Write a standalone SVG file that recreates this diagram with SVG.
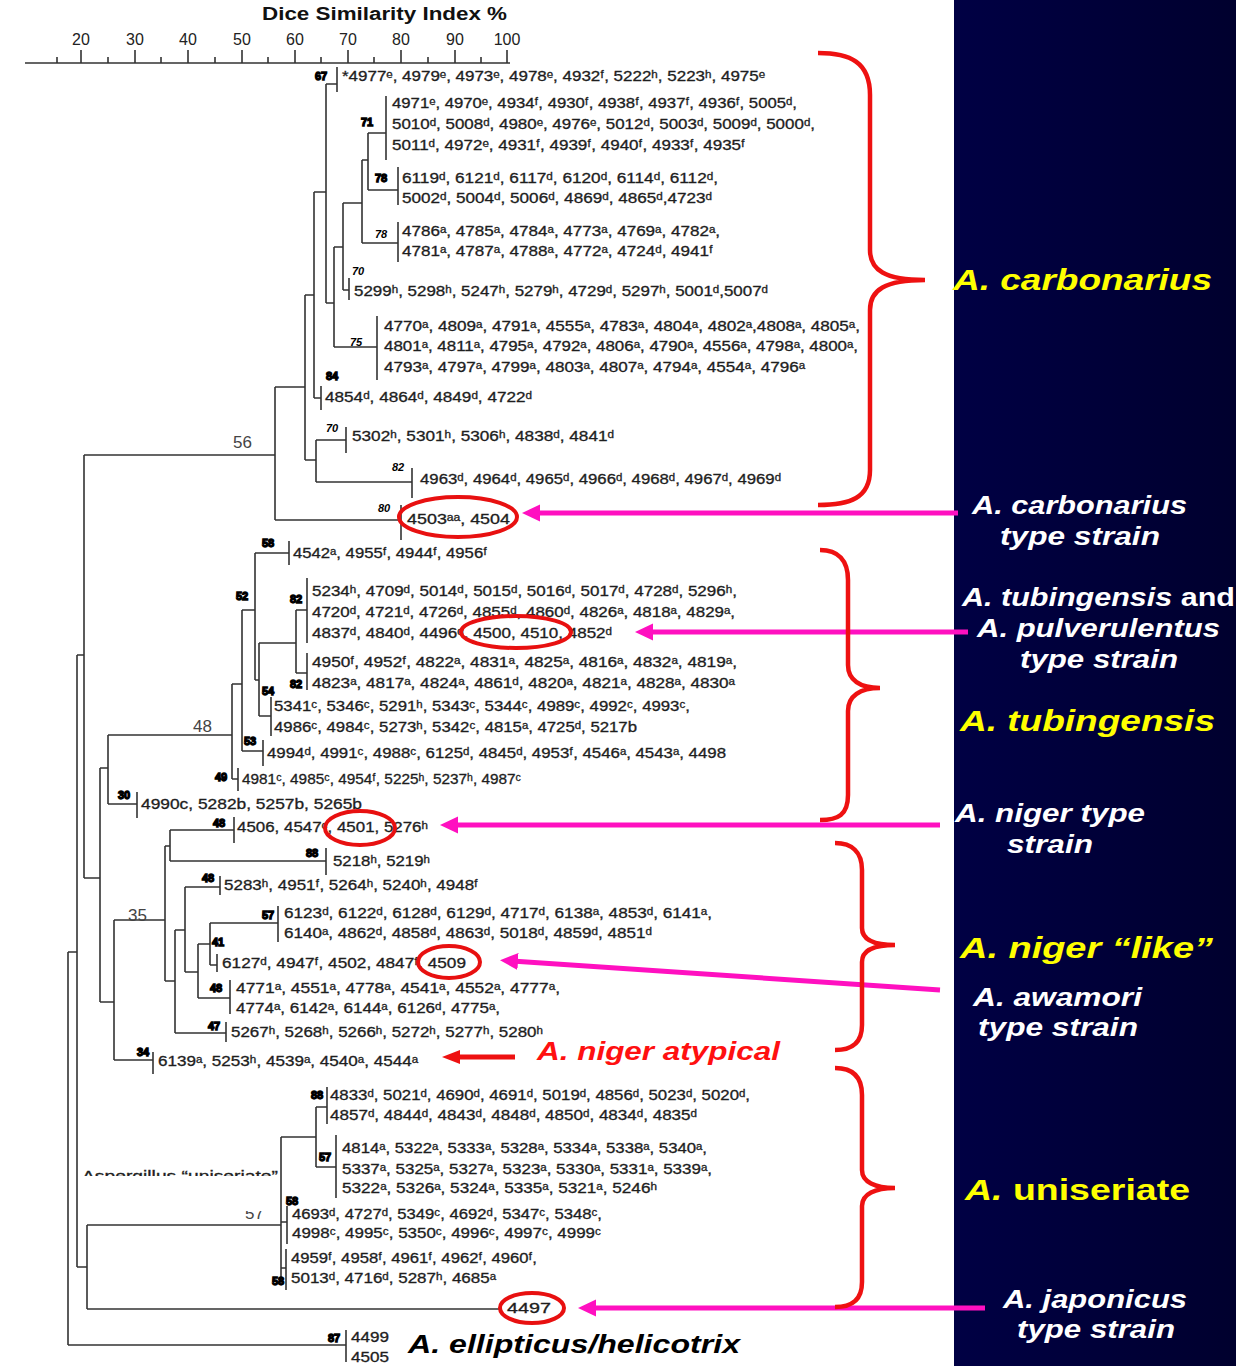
<svg xmlns="http://www.w3.org/2000/svg" width="1236" height="1366" viewBox="0 0 1236 1366">
<defs>
<linearGradient id="navy" x1="0" y1="0" x2="1" y2="0">
<stop offset="0" stop-color="#000044"/><stop offset="1" stop-color="#00002e"/>
</linearGradient>
<marker id="mh" markerUnits="userSpaceOnUse" markerWidth="20" markerHeight="18" refX="6" refY="8.5" orient="auto"><path d="M0,0 L18,8.5 L0,17 z" fill="#ff10c0"/></marker>
<marker id="rh" markerUnits="userSpaceOnUse" markerWidth="20" markerHeight="16" refX="6" refY="7" orient="auto"><path d="M0,0 L18,7 L0,14 z" fill="#ee1111"/></marker>
<style>
.t{font-family:"Liberation Sans",Arial,sans-serif;font-size:14px;fill:#1e1e1e;stroke:#1e1e1e;stroke-width:0.3}
.b{font-family:"Liberation Sans",Arial,sans-serif;font-size:11px;font-weight:bold;font-style:italic;fill:#000}
.bx{font-family:"Liberation Sans",Arial,sans-serif;font-size:11px;font-weight:bold;fill:#000;stroke:#000;stroke-width:1.3}
.big{font-family:"Liberation Sans",Arial,sans-serif;font-size:17px;fill:#444}
.ax{font-family:"Liberation Sans",Arial,sans-serif;font-size:16px;fill:#222;text-anchor:middle}
.title{font-family:"Liberation Sans",Arial,sans-serif;font-size:18px;font-weight:bold;fill:#111}
.tree{stroke:#333;stroke-width:1.6;fill:none}
.bar{stroke:#333;stroke-width:1.6;fill:none}
.y{font-family:"Liberation Sans",Arial,sans-serif;font-size:30px;font-weight:bold;font-style:italic;fill:#ffff00}
.w{font-family:"Liberation Sans",Arial,sans-serif;font-size:25px;font-weight:bold;font-style:italic;fill:#fff}
.brace{stroke:#ee1111;stroke-width:4.5;fill:none}
.ell{stroke:#e81010;stroke-width:4;fill:none}
.marr{stroke:#ff10c0;stroke-width:5;fill:none;marker-end:url(#mh)}
.rarr{stroke:#ee1111;stroke-width:5;fill:none;marker-end:url(#rh)}
.red{font-family:"Liberation Sans",Arial,sans-serif;font-size:25px;font-weight:bold;font-style:italic;fill:#ff1010}
.blk{font-family:"Liberation Sans",Arial,sans-serif;font-size:25px;font-weight:bold;font-style:italic;fill:#000}
</style>
</defs>
<rect width="1236" height="1366" fill="#fff"/>
<rect x="954" y="0" width="282" height="1366" fill="url(#navy)"/>

<g id="axis">
<text class="title" x="262" y="20" textLength="245" lengthAdjust="spacingAndGlyphs">Dice Similarity Index %</text>
<path class="tree" d="M25 63H510 M81 50V63 M135 50V63 M188 50V63 M242 50V63 M295 50V63 M348 50V63 M401 50V63 M455 50V63 M507 50V63 M57 57V63 M108 57V63 M161 57V63 M215 57V63 M268 57V63 M321 57V63 M374 57V63 M428 57V63 M481 57V63"/>
<text class="ax" x="81" y="45">20</text><text class="ax" x="135" y="45">30</text><text class="ax" x="188" y="45">40</text><text class="ax" x="242" y="45">50</text><text class="ax" x="295" y="45">60</text><text class="ax" x="348" y="45">70</text><text class="ax" x="401" y="45">80</text><text class="ax" x="455" y="45">90</text><text class="ax" x="507" y="45">100</text>
</g>

<g id="connectors">
<path class="tree" d="M84 455H275 M275 387V520 M275 520H401 M275 387H305 M305 295V460 M305 460H316 M316 440V482 M316 440H346 M316 482H412 M305 295H314 M314 192V398 M314 398H321 M314 192H326 M326 84V303 M326 84H337 M326 303H334 M334 247V347 M334 347H377 M334 247H343 M343 203V290 M343 290H349 M343 203H362 M362 160V243 M362 243H398 M362 160H368 M368 133V190 M368 133H386 M368 190H398"/>
<path class="tree" d="M84 455V878 M77 655H84 M77 655V1267 M68 952H77 M68 952V1345 M68 1345H346 M77 1267H87 M87 1225V1309 M87 1309H502 M87 1225H281 M84 878H100 M100 768V1002 M100 768H108 M108 735V804 M108 735H232 M108 804H137 M232 684V779 M232 779H238 M232 684H242 M242 610V751 M242 751H263 M242 610H255 M255 553V680 M255 553H289 M255 680H259 M259 643V716 M259 716H271 M259 643H296 M296 610V673 M296 610H307 M296 673H307"/>
<path class="tree" d="M100 1002H114 M114 920V1060 M114 1060H153 M114 920H165 M165 846V981 M165 846H170 M170 830V861 M170 830H234 M170 861H326 M165 981H175 M175 930V1033 M175 1033H226 M175 930H185 M185 887V972 M185 887H220 M185 972H198 M198 944V998 M198 998H230 M198 944H210 M210 923V965 M210 923H278 M210 965H217"/>
<path class="tree" d="M281 1137V1283 M281 1137H316 M316 1107V1167 M316 1107H327 M316 1167H336 M281 1222H287 M281 1268H286"/>
<path class="marr" d="M958 513H534"/>
<path class="marr" d="M968 632H647"/>
<path class="marr" d="M940 825H452"/>
<path class="marr" d="M940 990L512 961"/>
<path class="marr" d="M985 1308H590"/>
<path class="rarr" d="M515 1057H454"/>
</g>

<g id="scale-labels">
<text class="big" x="233" y="448">56</text>
<text class="big" x="193" y="732">48</text>
<text class="big" x="128" y="921">35</text>
</g>

<g id="leaf-4977"><path class="bar" d="M337 67V92"/><text class="bx" x="315" y="80">67</text><text class="t" x="342" y="81" textLength="423" lengthAdjust="spacingAndGlyphs">*4977ᵉ, 4979ᵉ, 4973ᵉ, 4978ᵉ, 4932ᶠ, 5222ʰ, 5223ʰ, 4975ᵉ</text></g>
<g id="leaf-4971"><path class="bar" d="M386 96V160"/><text class="bx" x="361" y="126">71</text>
<text class="t" x="392" y="108" textLength="405" lengthAdjust="spacingAndGlyphs">4971ᵉ, 4970ᵉ, 4934ᶠ, 4930ᶠ, 4938ᶠ, 4937ᶠ, 4936ᶠ, 5005ᵈ,</text>
<text class="t" x="392" y="129" textLength="423" lengthAdjust="spacingAndGlyphs">5010ᵈ, 5008ᵈ, 4980ᵉ, 4976ᵉ, 5012ᵈ, 5003ᵈ, 5009ᵈ, 5000ᵈ,</text>
<text class="t" x="392" y="150" textLength="353" lengthAdjust="spacingAndGlyphs">5011ᵈ, 4972ᵉ, 4931ᶠ, 4939ᶠ, 4940ᶠ, 4933ᶠ, 4935ᶠ</text></g>
<g id="leaf-6119"><path class="bar" d="M398 167V205"/><text class="bx" x="375" y="182">78</text>
<text class="t" x="402" y="183" textLength="316" lengthAdjust="spacingAndGlyphs">6119ᵈ, 6121ᵈ, 6117ᵈ, 6120ᵈ, 6114ᵈ, 6112ᵈ,</text>
<text class="t" x="402" y="203" textLength="310" lengthAdjust="spacingAndGlyphs">5002ᵈ, 5004ᵈ, 5006ᵈ, 4869ᵈ, 4865ᵈ,4723ᵈ</text></g>
<g id="leaf-4786"><path class="bar" d="M398 222V262"/><text class="b" x="375" y="238">78</text>
<text class="t" x="402" y="236" textLength="318" lengthAdjust="spacingAndGlyphs">4786ᵃ, 4785ᵃ, 4784ᵃ, 4773ᵃ, 4769ᵃ, 4782ᵃ,</text>
<text class="t" x="402" y="256" textLength="311" lengthAdjust="spacingAndGlyphs">4781ᵃ, 4787ᵃ, 4788ᵃ, 4772ᵃ, 4724ᵈ, 4941ᶠ</text></g>
<g id="leaf-5299"><path class="bar" d="M349 278V300"/><text class="b" x="352" y="275">70</text>
<text class="t" x="354" y="296" textLength="414" lengthAdjust="spacingAndGlyphs">5299ʰ, 5298ʰ, 5247ʰ, 5279ʰ, 4729ᵈ, 5297ʰ, 5001ᵈ,5007ᵈ</text></g>
<g id="leaf-4770"><path class="bar" d="M377 316V380"/><text class="b" x="350" y="346">75</text>
<text class="t" x="384" y="331" textLength="476" lengthAdjust="spacingAndGlyphs">4770ᵃ, 4809ᵃ, 4791ᵃ, 4555ᵃ, 4783ᵃ, 4804ᵃ, 4802ᵃ,4808ᵃ,  4805ᵃ,</text>
<text class="t" x="384" y="351" textLength="474" lengthAdjust="spacingAndGlyphs">4801ᵃ, 4811ᵃ, 4795ᵃ, 4792ᵃ, 4806ᵃ, 4790ᵃ, 4556ᵃ, 4798ᵃ, 4800ᵃ,</text>
<text class="t" x="384" y="372" textLength="421" lengthAdjust="spacingAndGlyphs">4793ᵃ, 4797ᵃ, 4799ᵃ, 4803ᵃ, 4807ᵃ, 4794ᵃ, 4554ᵃ, 4796ᵃ</text></g>
<g id="leaf-4854"><path class="bar" d="M321 386V410"/><text class="bx" x="326" y="380">84</text>
<text class="t" x="325" y="402" textLength="207" lengthAdjust="spacingAndGlyphs">4854ᵈ, 4864ᵈ, 4849ᵈ, 4722ᵈ</text></g>
<g id="leaf-5302"><path class="bar" d="M346 427V453"/><text class="b" x="326" y="432">70</text>
<text class="t" x="352" y="441" textLength="262" lengthAdjust="spacingAndGlyphs">5302ʰ, 5301ʰ, 5306ʰ, 4838ᵈ, 4841ᵈ</text></g>
<g id="leaf-4963"><path class="bar" d="M412 468V498"/><text class="b" x="392" y="471">82</text>
<text class="t" x="420" y="484" textLength="361" lengthAdjust="spacingAndGlyphs">4963ᵈ, 4964ᵈ, 4965ᵈ, 4966ᵈ, 4968ᵈ, 4967ᵈ, 4969ᵈ</text></g>
<g id="leaf-4503"><path class="bar" d="M401 505V540"/><text class="b" x="378" y="512">80</text>
<text class="t" x="407" y="524" textLength="103" lengthAdjust="spacingAndGlyphs">4503ᵃᵃ, 4504</text>
<ellipse class="ell" cx="458" cy="517" rx="59" ry="20"/></g>

<g id="leaf-4542"><path class="bar" d="M289 541V565"/><text class="bx" x="262" y="547">58</text>
<text class="t" x="293" y="558" textLength="194" lengthAdjust="spacingAndGlyphs">4542ᵃ, 4955ᶠ, 4944ᶠ, 4956ᶠ</text></g>
<g id="leaf-5234"><path class="bar" d="M307 578V643"/><text class="bx" x="236" y="600">52</text><text class="bx" x="290" y="603">82</text>
<text class="t" x="312" y="596" textLength="425" lengthAdjust="spacingAndGlyphs">5234ʰ, 4709ᵈ, 5014ᵈ, 5015ᵈ, 5016ᵈ, 5017ᵈ, 4728ᵈ, 5296ʰ,</text>
<text class="t" x="312" y="617" textLength="423" lengthAdjust="spacingAndGlyphs">4720ᵈ, 4721ᵈ, 4726ᵈ, 4855ᵈ, 4860ᵈ, 4826ᵃ, 4818ᵃ, 4829ᵃ,</text>
<text class="t" x="312" y="638" textLength="300" lengthAdjust="spacingAndGlyphs">4837ᵈ, 4840ᵈ, 4496ᵈ, 4500, 4510, 4852ᵈ</text>
<ellipse class="ell" cx="516" cy="632" rx="55" ry="16"/></g>
<g id="leaf-4950"><path class="bar" d="M307 653V690"/><text class="bx" x="290" y="688">82</text>
<text class="t" x="312" y="667" textLength="425" lengthAdjust="spacingAndGlyphs">4950ᶠ, 4952ᶠ, 4822ᵃ, 4831ᵃ, 4825ᵃ, 4816ᵃ, 4832ᵃ, 4819ᵃ,</text>
<text class="t" x="312" y="688" textLength="423" lengthAdjust="spacingAndGlyphs">4823ᵃ, 4817ᵃ, 4824ᵃ, 4861ᵈ, 4820ᵃ, 4821ᵃ, 4828ᵃ, 4830ᵃ</text></g>
<g id="leaf-5341"><path class="bar" d="M271 697V736"/><text class="bx" x="262" y="695">54</text>
<text class="t" x="274" y="711" textLength="416" lengthAdjust="spacingAndGlyphs">5341ᶜ, 5346ᶜ, 5291ʰ, 5343ᶜ, 5344ᶜ, 4989ᶜ, 4992ᶜ, 4993ᶜ,</text>
<text class="t" x="274" y="732" textLength="363" lengthAdjust="spacingAndGlyphs">4986ᶜ, 4984ᶜ, 5273ʰ, 5342ᶜ, 4815ᵃ, 4725ᵈ, 5217b</text></g>
<g id="leaf-4994"><path class="bar" d="M263 740V766"/><text class="bx" x="244" y="745">53</text>
<text class="t" x="267" y="758" textLength="459" lengthAdjust="spacingAndGlyphs">4994ᵈ, 4991ᶜ, 4988ᶜ, 6125ᵈ, 4845ᵈ, 4953ᶠ, 4546ᵃ, 4543ᵃ, 4498</text></g>
<g id="leaf-4981"><path class="bar" d="M238 768V791"/><text class="bx" x="215" y="781">49</text>
<text class="t" x="242" y="784" textLength="279" lengthAdjust="spacingAndGlyphs">4981ᶜ, 4985ᶜ, 4954ᶠ, 5225ʰ, 5237ʰ, 4987ᶜ</text></g>
<g id="leaf-4990"><path class="bar" d="M137 792V818"/><text class="bx" x="118" y="799">30</text>
<text class="t" x="141" y="809" textLength="221" lengthAdjust="spacingAndGlyphs">4990c, 5282b, 5257b, 5265b</text></g>

<g id="leaf-4506"><path class="bar" d="M234 817V843"/><text class="bx" x="213" y="827">48</text>
<text class="t" x="237" y="832" textLength="191" lengthAdjust="spacingAndGlyphs">4506, 4547ᶜ, 4501, 5276ʰ</text>
<ellipse class="ell" cx="360" cy="828" rx="35" ry="17"/></g>
<g id="leaf-5218"><path class="bar" d="M326 848V875"/><text class="bx" x="306" y="857">88</text>
<text class="t" x="333" y="866" textLength="97" lengthAdjust="spacingAndGlyphs">5218ʰ, 5219ʰ</text></g>
<g id="leaf-5283"><path class="bar" d="M220 876V895"/><text class="bx" x="202" y="882">48</text>
<text class="t" x="224" y="890" textLength="254" lengthAdjust="spacingAndGlyphs">5283ʰ, 4951ᶠ, 5264ʰ, 5240ʰ, 4948ᶠ</text></g>
<g id="leaf-6123"><path class="bar" d="M278 906V942"/><text class="bx" x="262" y="919">57</text>
<text class="t" x="284" y="918" textLength="428" lengthAdjust="spacingAndGlyphs">6123ᵈ, 6122ᵈ, 6128ᵈ, 6129ᵈ, 4717ᵈ, 6138ᵃ, 4853ᵈ, 6141ᵃ,</text>
<text class="t" x="284" y="938" textLength="368" lengthAdjust="spacingAndGlyphs">6140ᵃ, 4862ᵈ, 4858ᵈ, 4863ᵈ, 5018ᵈ, 4859ᵈ, 4851ᵈ</text></g>
<g id="leaf-6127"><path class="bar" d="M217 954V972"/><text class="bx" x="212" y="946">41</text>
<text class="t" x="222" y="968" textLength="244" lengthAdjust="spacingAndGlyphs">6127ᵈ, 4947ᶠ, 4502, 4847ᶠ, 4509</text>
<ellipse class="ell" cx="449" cy="962" rx="31" ry="16"/></g>
<g id="leaf-4771"><path class="bar" d="M230 980V1014"/><text class="bx" x="210" y="992">48</text>
<text class="t" x="236" y="993" textLength="324" lengthAdjust="spacingAndGlyphs">4771ᵃ,  4551ᵃ, 4778ᵃ, 4541ᵃ, 4552ᵃ, 4777ᵃ,</text>
<text class="t" x="236" y="1013" textLength="264" lengthAdjust="spacingAndGlyphs">4774ᵃ, 6142ᵃ, 6144ᵃ, 6126ᵈ, 4775ᵃ,</text></g>
<g id="leaf-5267"><path class="bar" d="M226 1022V1042"/><text class="bx" x="208" y="1030">47</text>
<text class="t" x="231" y="1037" textLength="312" lengthAdjust="spacingAndGlyphs">5267ʰ, 5268ʰ, 5266ʰ, 5272ʰ, 5277ʰ, 5280ʰ</text></g>
<g id="leaf-6139"><path class="bar" d="M153 1052V1074"/><text class="bx" x="137" y="1056">34</text>
<text class="t" x="158" y="1066" textLength="260" lengthAdjust="spacingAndGlyphs">6139ᵃ, 5253ʰ, 4539ᵃ, 4540ᵃ, 4544ᵃ</text></g>
<g id="label-atypical"><text class="red" x="537" y="1060" textLength="243" lengthAdjust="spacingAndGlyphs">A. niger atypical</text></g>

<g id="leaf-4833"><path class="bar" d="M327 1087V1124"/><text class="bx" x="311" y="1099">88</text>
<text class="t" x="330" y="1100" textLength="420" lengthAdjust="spacingAndGlyphs">4833ᵈ, 5021ᵈ, 4690ᵈ, 4691ᵈ, 5019ᵈ, 4856ᵈ, 5023ᵈ, 5020ᵈ,</text>
<text class="t" x="330" y="1120" textLength="367" lengthAdjust="spacingAndGlyphs">4857ᵈ, 4844ᵈ, 4843ᵈ, 4848ᵈ, 4850ᵈ, 4834ᵈ, 4835ᵈ</text></g>
<g id="leaf-4814"><path class="bar" d="M336 1135V1198"/><text class="bx" x="319" y="1161">57</text>
<text class="t" x="342" y="1153" textLength="365" lengthAdjust="spacingAndGlyphs">4814ᵃ, 5322ᵃ, 5333ᵃ, 5328ᵃ, 5334ᵃ, 5338ᵃ, 5340ᵃ,</text>
<text class="t" x="342" y="1174" textLength="370" lengthAdjust="spacingAndGlyphs">5337ᵃ, 5325ᵃ, 5327ᵃ, 5323ᵃ, 5330ᵃ, 5331ᵃ, 5339ᵃ,</text>
<text class="t" x="342" y="1193" textLength="315" lengthAdjust="spacingAndGlyphs">5322ᵃ, 5326ᵃ, 5324ᵃ, 5335ᵃ, 5321ᵃ, 5246ʰ</text></g>
<g id="artifact-uniseriate">
<text class="t" x="82" y="1181" font-size="13" textLength="196" lengthAdjust="spacingAndGlyphs">Aspergillus “uniseriate”</text>
<text class="big" x="245" y="1219">57</text>
<rect x="80" y="1176" width="200" height="35" fill="#fff"/>
</g>
<g id="leaf-4693"><path class="bar" d="M287 1206V1244"/><text class="bx" x="286" y="1205">58</text>
<text class="t" x="292" y="1219" textLength="310" lengthAdjust="spacingAndGlyphs">4693ᵈ, 4727ᵈ, 5349ᶜ, 4692ᵈ, 5347ᶜ, 5348ᶜ,</text>
<text class="t" x="292" y="1238" textLength="309" lengthAdjust="spacingAndGlyphs">4998ᶜ, 4995ᶜ, 5350ᶜ, 4996ᶜ, 4997ᶜ, 4999ᶜ</text></g>
<g id="leaf-4959"><path class="bar" d="M286 1249V1290"/><text class="bx" x="272" y="1285">58</text>
<text class="t" x="291" y="1263" textLength="246" lengthAdjust="spacingAndGlyphs">4959ᶠ, 4958ᶠ, 4961ᶠ, 4962ᶠ, 4960ᶠ,</text>
<text class="t" x="291" y="1283" textLength="205" lengthAdjust="spacingAndGlyphs">5013ᵈ, 4716ᵈ, 5287ʰ, 4685ᵃ</text></g>
<g id="leaf-4497"><text class="t" x="507" y="1313" textLength="44" lengthAdjust="spacingAndGlyphs">4497</text>
<ellipse class="ell" cx="532" cy="1308" rx="32" ry="15"/></g>
<g id="leaf-4499"><path class="bar" d="M346 1330V1362"/><text class="bx" x="328" y="1342">87</text>
<text class="t" x="351" y="1342" textLength="38" lengthAdjust="spacingAndGlyphs">4499</text>
<text class="t" x="351" y="1362" textLength="38" lengthAdjust="spacingAndGlyphs">4505</text></g>
<g id="label-ellipticus"><text class="blk" x="408" y="1353" textLength="332" lengthAdjust="spacingAndGlyphs">A. ellipticus/helicotrix</text></g>

<g id="braces">
<path class="brace" d="M818 53 C850 53 870 62 870 95 L870 250 C870 270 885 280 925 280 C885 280 870 290 870 310 L870 470 C870 498 850 505 818 505"/>
<path class="brace" d="M820 550 C838 550 848 560 848 580 L848 665 C848 680 860 688 880 688 C860 688 848 696 848 711 L848 795 C848 815 838 820 820 820"/>
<path class="brace" d="M835 843 C852 843 862 852 862 870 L862 928 C862 940 875 945 895 945 C875 945 862 950 862 962 L862 1025 C862 1043 852 1050 835 1050"/>
<path class="brace" d="M835 1068 C852 1068 862 1076 862 1095 L862 1170 C862 1182 875 1188 895 1188 C875 1188 862 1194 862 1206 L862 1282 C862 1300 852 1307 835 1307"/>
</g>

<g id="label-carbonarius"><text class="y" x="953" y="290" textLength="259" lengthAdjust="spacingAndGlyphs">A. carbonarius</text></g>
<g id="label-carbonarius-type"><text class="w" x="972" y="514" textLength="215" lengthAdjust="spacingAndGlyphs">A. carbonarius</text><text class="w" x="1000" y="545" textLength="160" lengthAdjust="spacingAndGlyphs">type strain</text></g>
<g id="label-tub-pulv"><text class="w" x="962" y="606" textLength="273" lengthAdjust="spacingAndGlyphs">A. tubingensis <tspan font-style="normal">and</tspan></text><text class="w" x="977" y="637" textLength="243" lengthAdjust="spacingAndGlyphs">A. pulverulentus</text><text class="w" x="1020" y="668" textLength="158" lengthAdjust="spacingAndGlyphs">type strain</text></g>
<g id="label-tubingensis"><text class="y" x="960" y="731" textLength="255" lengthAdjust="spacingAndGlyphs">A. tubingensis</text></g>
<g id="label-niger-type"><text class="w" x="955" y="822" textLength="190" lengthAdjust="spacingAndGlyphs">A. niger type</text><text class="w" x="1007" y="853" textLength="86" lengthAdjust="spacingAndGlyphs">strain</text></g>
<g id="label-niger-like"><text class="y" x="960" y="958" textLength="253" lengthAdjust="spacingAndGlyphs">A. niger “like”</text></g>
<g id="label-awamori"><text class="w" x="973" y="1006" textLength="169" lengthAdjust="spacingAndGlyphs">A. awamori</text><text class="w" x="978" y="1036" textLength="160" lengthAdjust="spacingAndGlyphs">type strain</text></g>
<g id="label-uniseriate"><text class="y" x="965" y="1200" textLength="225" lengthAdjust="spacingAndGlyphs">A. <tspan font-style="normal">uniseriate</tspan></text></g>
<g id="label-japonicus"><text class="w" x="1003" y="1308" textLength="184" lengthAdjust="spacingAndGlyphs">A. japonicus</text><text class="w" x="1017" y="1338" textLength="158" lengthAdjust="spacingAndGlyphs">type strain</text></g>
</svg>
